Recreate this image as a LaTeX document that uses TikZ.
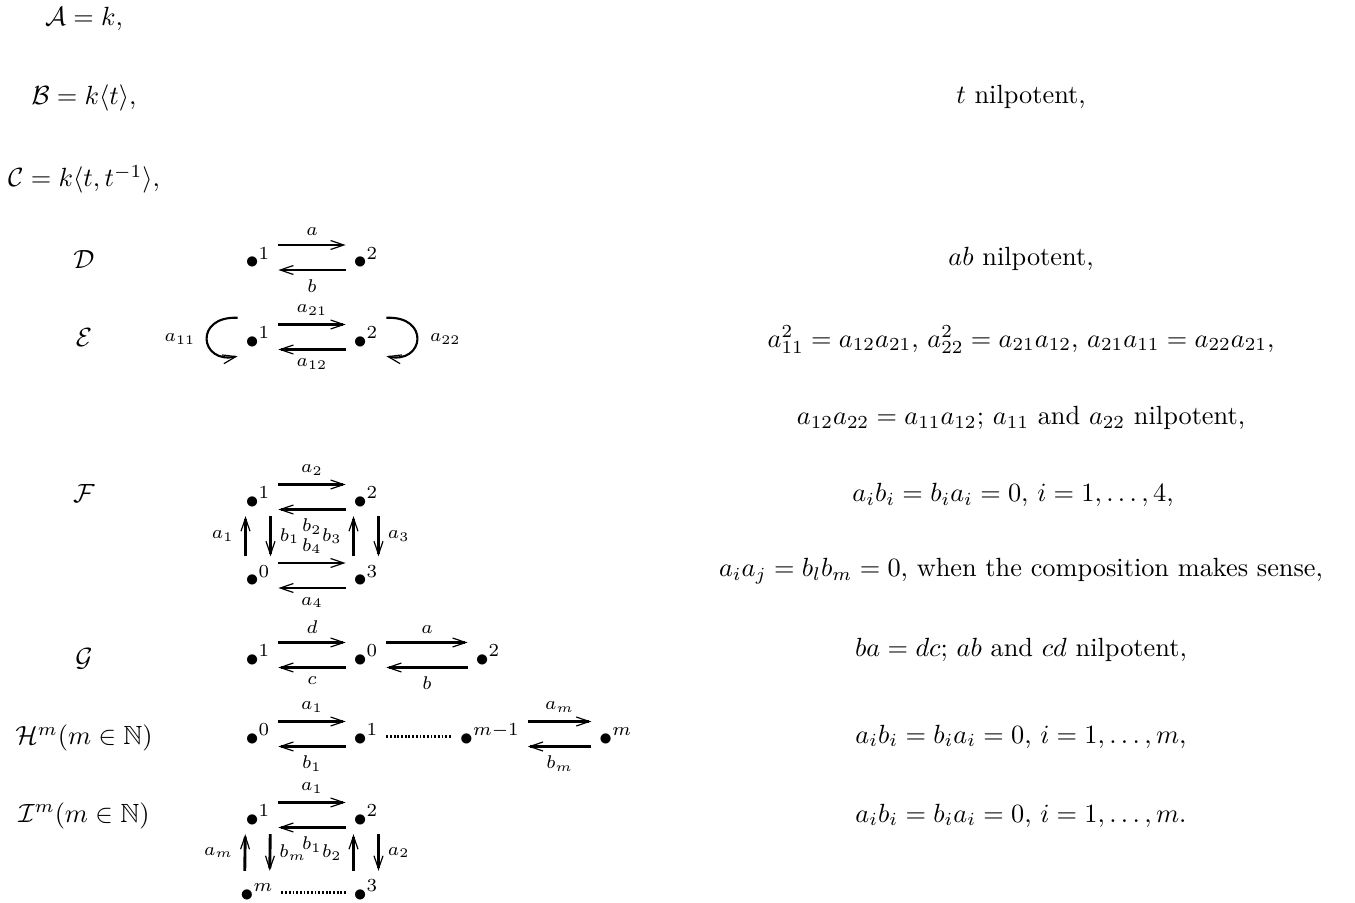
\documentclass[tikz,border=0pt]{standalone}
\usepackage{amsmath,amssymb}
\usetikzlibrary{arrows.meta}

\begin{document}
\begin{tikzpicture}[x=0.38pt,y=-0.38pt]
\tikzset{vertex/.style = {inner sep=2.8pt, text height=8.6pt, text depth=0pt}}
\tikzset{edge/.style = {->, > = {Straight Barb[length=5pt,width=3.4pt,line width=0.45pt]}, line width=1.1pt}}
\tikzset{loopy/.style = {edge, line width=0.8pt}}
\tikzset{upper/.style = {transform canvas={yshift=4.75pt}}}
\tikzset{lower/.style = {transform canvas={yshift=-4.75pt}}}
\tikzset{lside/.style = {transform canvas={xshift=-4.75pt}}}
\tikzset{rside/.style = {transform canvas={xshift=4.75pt}}}
\tikzset{lab/.style = {font=\scriptsize, inner sep=3pt}}
\tikzset{dotline/.style = {line width=1.1pt, dash pattern=on 0.7pt off 0.7pt, transform canvas={yshift=-0.8pt}}}
\tikzset{rowlabel/.style = {anchor=base}}
\useasboundingbox (0,0) rectangle (1355,903);

% names of the algebras
\node[rowlabel] (lA) at (84,26) {$\mathcal{A}=k,$};
\node[rowlabel] (lB) at (84,104.6) {$\mathcal{B}=k\langle t\rangle,$};
\node[rowlabel] (lC) at (84,186.6) {$\mathcal{C}=k\langle t,t^{-1}\rangle,$};
\node[rowlabel] (lD) at (84,268.6) {$\mathcal{D}$};
\node[rowlabel] (lE) at (84,346.6) {$\mathcal{E}$};
\node[rowlabel] (lF) at (84,502.5) {$\mathcal{F}$};
\node[rowlabel] (lG) at (84,666) {$\mathcal{G}$};
\node[rowlabel] (lH) at (84,744.6) {$\mathcal{H}^m(m\in\mathbb{N})$};
\node[rowlabel] (lI) at (84,822) {$\mathcal{I}^m(m\in\mathbb{N})$};

% relations
\node[rowlabel] (rB) at (1021,104) {$t$ nilpotent,};
\node[rowlabel] (rD) at (1021,266) {$ab$ nilpotent,};
\node[rowlabel] (rE) at (1021,347) {$a_{11}^2=a_{12}a_{21}$, $a_{22}^2=a_{21}a_{12}$, $a_{21}a_{11}=a_{22}a_{21}$,};
\node[rowlabel] (rEE) at (1021,424.6) {$a_{12}a_{22}=a_{11}a_{12}$; $a_{11}$ and $a_{22}$ nilpotent,};
\node[rowlabel] (rF) at (1013,501.6) {$a_ib_i=b_ia_i=0$, $i=1,\ldots,4$,};
\node[rowlabel] (rFF) at (1021,576.6) {$a_ia_j=b_lb_m=0$, when the composition makes sense,};
\node[rowlabel] (rG) at (1021,656) {$ba=dc$; $ab$ and $cd$ nilpotent,};
\node[rowlabel] (rH) at (1021,743) {$a_ib_i=b_ia_i=0$, $i=1,\ldots,m$,};
\node[rowlabel] (rI) at (1021,822) {$a_ib_i=b_ia_i=0$, $i=1,\ldots,m$.};

% D
\node[vertex] (d1) at (258,257.5) {$\bullet^1$};
\node[vertex] (d2) at (366,257.5) {$\bullet^2$};
\draw[edge,upper] (d1) -- (d2) node[lab,midway,above] {$a$};
\draw[edge,lower] (d2) -- (d1) node[lab,midway,below] {$b$};

% E
\node[vertex] (e1) at (258,337) {$\bullet^1$};
\node[vertex] (e2) at (366,337) {$\bullet^2$};
\draw[edge,upper] (e1) -- (e2) node[lab,midway,above] {$a_{21}$};
\draw[edge,lower] (e2) -- (e1) node[lab,midway,below] {$a_{12}$};
\draw[loopy] (e1.north west) .. controls +(-44,-2) and +(-38,8) .. (e1.south west) node[lab,pos=0.5,left=1pt] {$a_{11}$};
\draw[loopy] (e2.north east) .. controls +(44,-2) and +(38,8) .. (e2.south east) node[lab,pos=0.5,right=1.5pt] {$a_{22}$};

% F
\node[vertex] (f1) at (258,497) {$\bullet^1$};
\node[vertex] (f2) at (366,497) {$\bullet^2$};
\node[vertex] (f0) at (258,575.5) {$\bullet^0$};
\node[vertex] (f3) at (366,575.5) {$\bullet^3$};
\draw[edge,upper] (f1) -- (f2) node[lab,midway,above] {$a_2$};
\draw[edge,lower] (f2) -- (f1) node[lab,midway,below] {$b_2$};
\draw[edge,upper] (f0) -- (f3) node[lab,midway,above] {$b_4$};
\draw[edge,lower] (f3) -- (f0) node[lab,midway,below] {$a_4$};
\draw[edge,lside] (f0) -- (f1) node[lab,midway,left=1pt] {$a_1$};
\draw[edge,rside] (f1) -- (f0) node[lab,midway,right] {$b_1$};
\draw[edge,lside] (f3) -- (f2) node[lab,midway,left=1pt] {$b_3$};
\draw[edge,rside] (f2) -- (f3) node[lab,midway,right] {$a_3$};

% G
\node[vertex] (g1) at (258,655) {$\bullet^1$};
\node[vertex] (g0) at (366,655) {$\bullet^0$};
\node[vertex] (g2) at (488,655) {$\bullet^2$};
\draw[edge,upper] (g1) -- (g0) node[lab,midway,above] {$d$};
\draw[edge,lower] (g0) -- (g1) node[lab,midway,below] {$c$};
\draw[edge,upper] (g0) -- (g2) node[lab,midway,above] {$a$};
\draw[edge,lower] (g2) -- (g0) node[lab,midway,below] {$b$};

% H^m
\node[vertex] (h0) at (258,734) {$\bullet^0$};
\node[vertex] (h1) at (366,734) {$\bullet^1$};
\node[vertex] (hm1) at (490,734) {$\bullet^{m-1}$};
\node[vertex] (hm) at (615.75,734) {$\bullet^m$};
\draw[edge,upper] (h0) -- (h1) node[lab,midway,above] {$a_1$};
\draw[edge,lower] (h1) -- (h0) node[lab,midway,below] {$b_1$};
\draw[dotline] (h1) -- (hm1);
\draw[edge,upper] (hm1) -- (hm) node[lab,midway,above] {$a_m$};
\draw[edge,lower] (hm) -- (hm1) node[lab,midway,below] {$b_m$};

% I^m
\node[vertex] (i1) at (258,815) {$\bullet^1$};
\node[vertex] (i2) at (366,815) {$\bullet^2$};
\node[vertex] (im) at (257,890) {$\bullet^m$};
\node[vertex] (i3) at (366,890) {$\bullet^3$};
\draw[edge,upper] (i1) -- (i2) node[lab,midway,above] {$a_1$};
\draw[edge,lower] (i2) -- (i1) node[lab,midway,below] {$b_1$};
\draw[edge,lside] (im) -- (i1) node[lab,midway,left=1pt] {$a_m$};
\draw[edge,rside] (i1) -- (im) node[lab,midway,right] {$b_m$};
\draw[edge,lside] (i3) -- (i2) node[lab,midway,left=1pt] {$b_2$};
\draw[edge,rside] (i2) -- (i3) node[lab,midway,right] {$a_2$};
\draw[dotline] (im) -- (i3);
\end{tikzpicture}
\end{document}
